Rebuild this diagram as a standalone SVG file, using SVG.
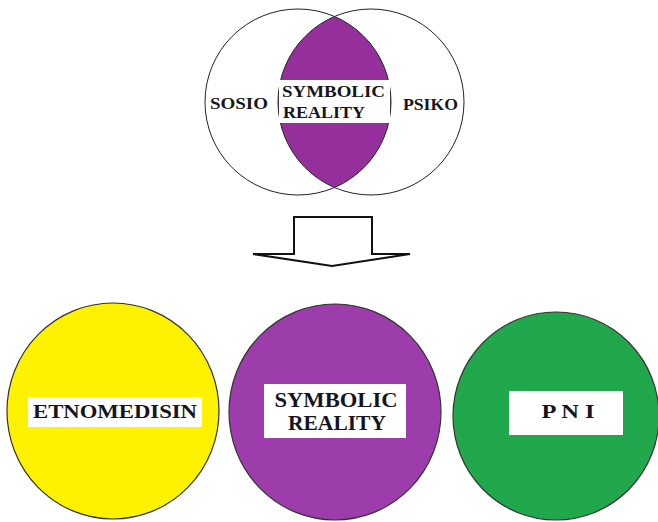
<svg xmlns="http://www.w3.org/2000/svg" width="658" height="522" viewBox="0 0 658 522">
<style>
.lbl{font-family:"Liberation Serif","Times New Roman",serif;font-weight:bold;fill:#151520;}
.ring{fill:none;stroke:#222;stroke-width:1}
.box{fill:#fff;stroke:none}
.big{stroke:#333;stroke-width:1.2}
</style>
<rect width="658" height="522" fill="#fff"/>
<g id="venn">
  <path d="M334.5,16.5 A93,93 0 0,1 334.5,187.5 A93,93 0 0,1 334.5,16.5 Z" fill="#952f9c"/>
  <circle class="ring" cx="298" cy="102" r="93"/>
  <circle class="ring" cx="371" cy="102" r="93"/>
  <rect class="box" x="279" y="80" width="111" height="43"/>
  <text class="lbl" x="282" y="97" font-size="16" textLength="103" lengthAdjust="spacingAndGlyphs">SYMBOLIC</text>
  <text class="lbl" x="283" y="118" font-size="16" textLength="82" lengthAdjust="spacingAndGlyphs">REALITY</text>
  <text class="lbl" x="210" y="109" font-size="16" textLength="58" lengthAdjust="spacingAndGlyphs">SOSIO</text>
  <text class="lbl" x="403" y="110" font-size="16" textLength="55" lengthAdjust="spacingAndGlyphs">PSIKO</text>
</g>
<g id="connectors">
  <polygon points="294,217 372,217 372,254 410,254 332,266 253,254 294,254" fill="#fff" stroke="#111" stroke-width="2" stroke-linejoin="miter"/>
</g>
<g id="etnomedisin">
  <ellipse class="big" cx="113" cy="411" rx="106" ry="108" fill="#fff200"/>
  <rect class="box" x="28" y="397" width="174" height="30"/>
  <text class="lbl" x="33" y="418" font-size="19" textLength="164" lengthAdjust="spacingAndGlyphs">ETNOMEDISIN</text>
</g>
<g id="symbolic-reality">
  <ellipse class="big" cx="335" cy="412" rx="106" ry="108" fill="#9c3dab"/>
  <rect class="box" x="264" y="384" width="142" height="54"/>
  <text class="lbl" x="336" y="407" font-size="21" text-anchor="middle" textLength="123" lengthAdjust="spacingAndGlyphs">SYMBOLIC</text>
  <text class="lbl" x="337" y="430" font-size="21" text-anchor="middle" textLength="98" lengthAdjust="spacingAndGlyphs">REALITY</text>
</g>
<g id="pni">
  <ellipse class="big" cx="556" cy="416" rx="103" ry="104" fill="#22a84c"/>
  <rect class="box" x="509" y="391" width="114" height="44"/>
  <text class="lbl" x="568" y="418" font-size="19" text-anchor="middle" textLength="53" lengthAdjust="spacingAndGlyphs">P N I</text>
</g>
</svg>
